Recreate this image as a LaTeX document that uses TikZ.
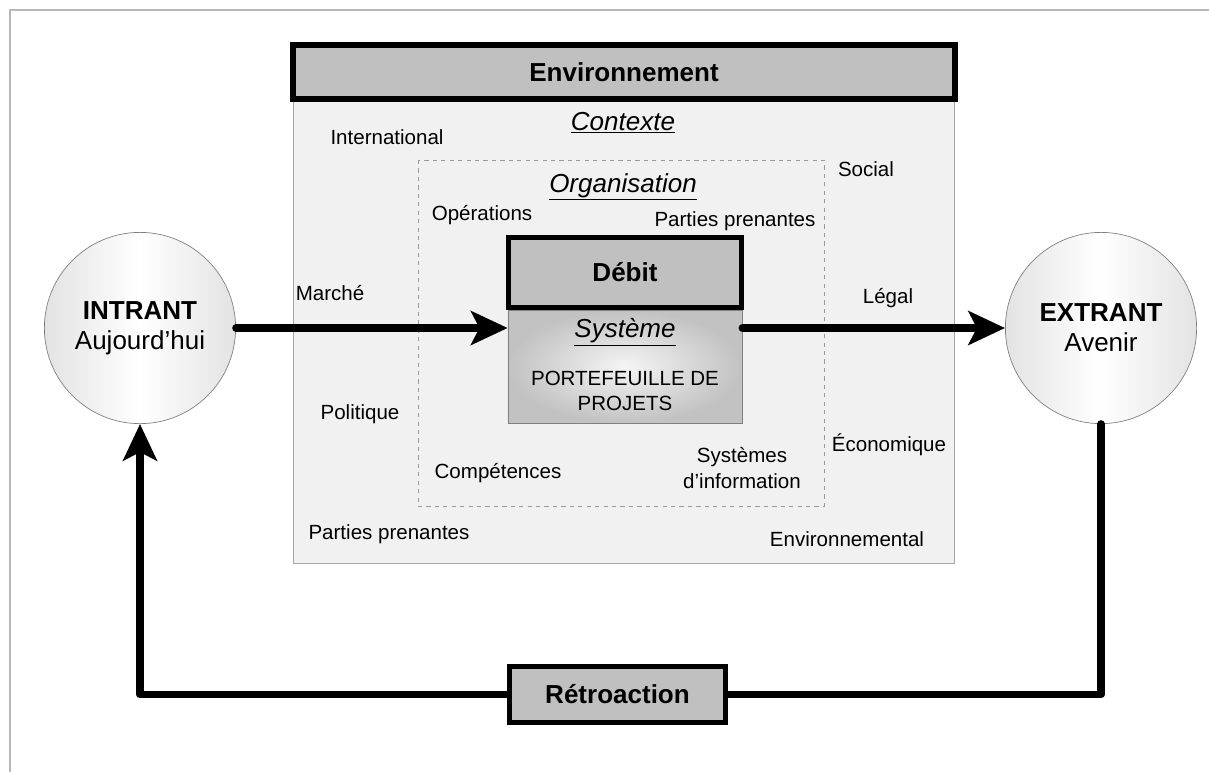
\documentclass[tikz,border=0pt]{standalone}
\usepackage{fontspec}
\setmainfont{Liberation Sans}
\usetikzlibrary{arrows.meta}
\definecolor{boxgray}{HTML}{C0C0C0}
\definecolor{ctxfill}{HTML}{F1F1F1}
\definecolor{ctxline}{HTML}{A6A6A6}
\definecolor{dashline}{HTML}{9A9A9A}
\newcommand{\lblfont}{\fontsize{14.6}{18}\selectfont}
\newcommand{\hdrfont}{\fontsize{18.5}{21.5}\selectfont}
\begin{document}
\begin{tikzpicture}[x=0.025cm, y=-0.025cm,
    flow/.style={line width=5.4pt, line cap=round, line join=round,
        -{Stealth[length=26pt, width=24pt, inset=6pt]}},
    thickbox/.style={draw, line width=3.6pt, fill=boxgray, inner sep=0pt, font=\hdrfont\bfseries},
    circ/.style={circle, draw=gray, line width=0.5pt, minimum size=4.78cm, inner sep=0pt,
        left color=gray!22, right color=gray!22, middle color=white, align=center, font=\hdrfont},
    lbl/.style={font=\lblfont, inner sep=0pt, text height=0.75em, text depth=0.2em, yshift=-0.1cm},
    ttl/.style={font=\hdrfont\itshape, inner sep=0pt}]
\useasboundingbox (0,0) rectangle (1209,772);
\draw[ctxline!80, line width=0.8pt] (10,772)--(10,10)--(1209,10);

\draw[ctxline, fill=ctxfill, line width=0.6pt] (293,100) rectangle (954,563);
\node[thickbox, line width=4.3pt, minimum width=16.55cm, minimum height=1.35cm, font=\fontsize{18.5}{21}\selectfont\bfseries] (env) at (624,72) {Environnement};
\node[ttl] (contexte) at (623,123) {\underline{Contexte}};
\draw[dashline, dashed, line width=0.6pt] (418,160) rectangle (824,506);
\node[ttl] (organisation) at (623,187) {\underline{Organisation}};

\foreach \px/\py/\txt [count=\i] in {387/137/International, 866/169/Social, 482/213/Opérations,
    735/219/Parties prenantes, 330/293/Marché, 888/296/Légal, 360/412/Politique,
    889/444/Économique, 498/471/Compétences, 389/532/Parties prenantes, 847/539/Environnemental}
{
    \node[lbl] (label\i) at (\px,\py) {\txt};
}
\node[font=\fontsize{14.6}{19}\selectfont, inner sep=0pt, align=center] (sysinfo) at (742,468) {Systèmes\\d’information};

\node[draw=gray, line width=0.5pt, inner color=gray!8, outer color=gray!48,
    minimum width=5.85cm, minimum height=2.825cm, inner sep=0pt] (sys) at (625,366.5) {};
\node[thickbox, minimum width=5.825cm, minimum height=1.75cm] (debit) at (625,272.5) {Débit};
\node[ttl] (systitle) at (625,332) {\underline{Système}};
\node[font=\fontsize{14.6}{17.5}\selectfont, inner sep=0pt, align=center] (sysproj) at (625,391) {PORTEFEUILLE DE\\PROJETS};

\node[circ] (intrant) at (140,328) {\textbf{INTRANT}\\Aujourd’hui};
\node[circ] (extrant) at (1101,328) {\textbf{EXTRANT}\\Avenir};

\draw[flow] (intrant.east) -- (intrant.east -| sys.west);
\draw[flow] (sys.east |- extrant.west) -- (extrant.west);

\node[thickbox, minimum width=5.4cm, minimum height=1.4cm] (retro) at (617.5,694.5) {Rétroaction};
\draw[flow, -] (extrant.south) |- (retro.east);
\draw[flow] (retro.west) -| (intrant.south);

\end{tikzpicture}
\end{document}
